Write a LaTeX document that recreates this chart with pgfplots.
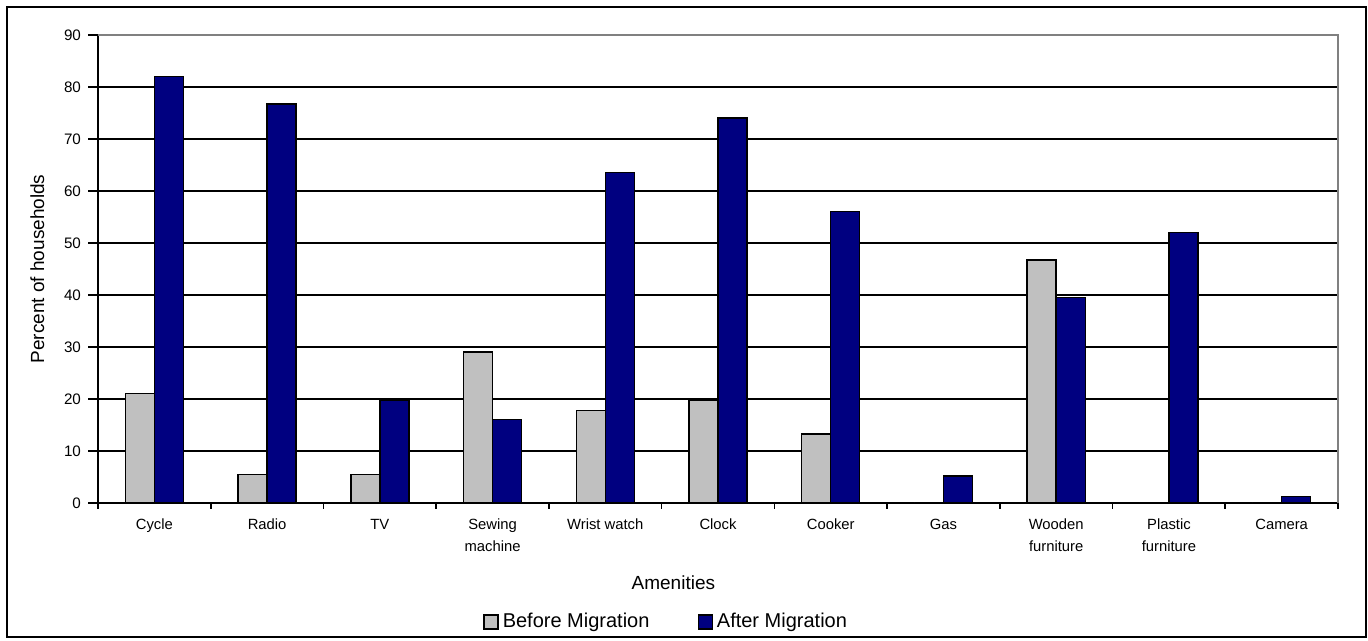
\documentclass[border=0pt]{standalone}
\usepackage{pgfplots}
\pgfplotsset{compat=1.18}
\usepackage{fontspec}
\setmainfont{Liberation Sans}
\definecolor{beforec}{HTML}{C0C0C0}
\definecolor{afterc}{HTML}{000080}
\begin{document}
\begin{tikzpicture}
\path (-49pt,-69pt) rectangle (635pt,251.5pt);
\draw[line width=1pt] (-45.5pt,-67pt) rectangle (634pt,248pt);
\begin{axis}[
  at={(0pt,0pt)}, anchor=south west,
  scale only axis, width=620pt, height=234pt,
  ybar=0pt, bar width=14.5pt,
  xmin=-0.5, xmax=10.5, ymin=0, ymax=90,
  ytick={0,10,...,90},
  xtick={0,...,10},
  xticklabels={Cycle,Radio,TV,Sewing\\machine,Wrist watch,Clock,Cooker,Gas,Wooden\\furniture,Plastic\\furniture,Camera},
  minor xtick={-0.5,0.5,...,10.5},
  major tick length=5pt, minor tick length=3pt,
  every major x tick/.append style={draw=none},
  tick align=outside,
  tick style={black, line width=0.8pt},
  axis x line*=bottom, axis y line*=left,
  axis line style={black, line width=0.8pt, -},
  ymajorgrids, grid style={black, line width=0.9pt},
  xticklabel style={align=center, font=\fontsize{7.4}{11}\selectfont, yshift=0.5pt, anchor=north},
  yticklabel style={font=\fontsize{7.6}{9}\selectfont},
  /pgf/number format/assume math mode=true,
  xlabel={Amenities},
  xlabel style={font=\fontsize{9.5}{11}\selectfont, at={(axis description cs:0.464,-0.171)}, anchor=center},
  ylabel={Percent of households},
  ylabel style={font=\fontsize{9.5}{11}\selectfont, at={(axis description cs:-0.049,0.5)}, anchor=center},
  legend columns=2,
  legend style={draw=none, fill=none, at={(axis description cs:0.459,-0.254)}, anchor=center,
    font=\fontsize{10}{12}\selectfont, /tikz/every even column/.append style={column sep=22pt}},
  legend image code/.code={\draw[#1, line width=0.7pt] (0pt,-3.5pt) rectangle (7pt,3.5pt);},
  clip=false,
]
\addplot[fill=beforec, draw=black, line width=0.7pt] coordinates {
 (0,21) (1,5.5) (2,5.5) (3,29) (4,17.8) (5,19.7) (6,13.3) (7,0) (8,46.7) (9,0) (10,0)};
\addplot[fill=afterc, draw=black, line width=0.7pt] coordinates {
 (0,82) (1,76.7) (2,19.8) (3,16) (4,63.5) (5,74) (6,56) (7,5.2) (8,39.5) (9,52) (10,1.3)};
\legend{Before Migration, After Migration}
\draw[gray, line width=1pt] (rel axis cs:0,1) -- (rel axis cs:1,1) -- (rel axis cs:1,0);
\end{axis}
\end{tikzpicture}
\end{document}
